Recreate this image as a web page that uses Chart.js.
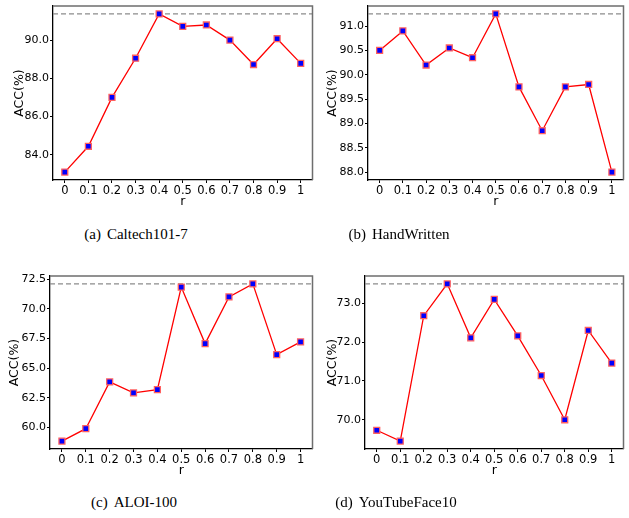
<!DOCTYPE html>
<html>
<head>
<meta charset="utf-8">
<script src="https://cdn.jsdelivr.net/npm/chart.js@4.4.1/dist/chart.umd.min.js"></script>
<style>
  body { margin: 0; background: #fff; width: 629px; height: 518px; position: relative; overflow: hidden; }
  .box { position: absolute; }
  .cap { position: absolute; font-family: "Liberation Serif", "DejaVu Serif", serif; font-size: 15px; color: #000; white-space: nowrap; transform: translateX(-50%); }
  .cap span { margin-right: 6px; }
</style>
</head>
<body>

<div class="box" style="left:0px;top:0px;width:318px;height:212px"><canvas id="g1"></canvas></div>
<div class="box" style="left:315px;top:0px;width:314px;height:212px"><canvas id="g2"></canvas></div>
<div class="box" style="left:0px;top:265px;width:318px;height:216px"><canvas id="g3"></canvas></div>
<div class="box" style="left:312px;top:265px;width:317px;height:216px"><canvas id="g4"></canvas></div>

<div class="cap" style="left:136px;top:226px"><span>(a)</span>Caltech101-7</div>
<div class="cap" style="left:399px;top:226px"><span>(b)</span>HandWritten</div>
<div class="cap" style="left:134px;top:494px"><span>(c)</span>ALOI-100</div>
<div class="cap" style="left:396px;top:494px"><span>(d)</span>YouTubeFace10</div>

<script>
// values of r on the x axis
const rLabels = ['0', '0.1', '0.2', '0.3', '0.4', '0.5', '0.6', '0.7', '0.8', '0.9', '1'];

// ACC(%) per dataset
const caltech101 = [83.09, 84.44, 87.0, 89.05, 91.37, 90.72, 90.79, 90.0, 88.72, 90.07, 88.78];
const handWritten = [90.5, 90.9, 90.2, 90.55, 90.35, 91.25, 89.75, 88.85, 89.75, 89.8, 88.0];
const aloi100 = [58.85, 59.9, 63.85, 62.92, 63.2, 71.85, 67.08, 71.02, 72.12, 66.15, 67.22];
const youtubeFace = [69.73, 69.45, 72.68, 73.5, 72.11, 73.1, 72.16, 71.14, 70.0, 72.3, 71.46];

// y tick labels
const ticksA = [84, 86, 88, 90];
const ticksB = [88, 88.5, 89, 89.5, 90, 90.5, 91];
const ticksC = [60, 62.5, 65, 67.5, 70, 72.5];
const ticksD = [70, 71, 72, 73];

Chart.defaults.color = '#000';
Chart.defaults.font.family = '"DejaVu Sans", sans-serif';

// dashed best line + grey top/right frame
const framePlugin = {
  id: 'frame',
  beforeDatasetsDraw(chart) {
    const ctx = chart.ctx, a = chart.chartArea;
    const best = Math.max.apply(null, chart.data.datasets[0].data);
    const y = chart.scales.y.getPixelForValue(best);
    ctx.save();
    ctx.strokeStyle = '#8c8c8c';
    ctx.lineWidth = 1.2;
    ctx.setLineDash([5, 3]);
    ctx.beginPath();
    ctx.moveTo(a.left, y);
    ctx.lineTo(a.right, y);
    ctx.stroke();
    ctx.restore();
  },
  afterDraw(chart) {
    const ctx = chart.ctx, a = chart.chartArea;
    ctx.save();
    ctx.strokeStyle = '#6e6e6e';
    ctx.lineWidth = 1.5;
    ctx.beginPath();
    ctx.moveTo(a.left, a.top);
    ctx.lineTo(a.right, a.top);
    ctx.lineTo(a.right, a.bottom);
    ctx.stroke();
    ctx.restore();
  }
};

function grafica(id, values, yticks, yWidth, titlePad, pad) {
  var lo = Math.min.apply(null, values), hi = Math.max.apply(null, values);
  var m = (hi - lo) * 0.05;

  new Chart(document.getElementById(id), {
    type: 'line',
    data: {
      labels: rLabels,
      datasets: [{
        data: values,
        borderColor: '#ff0000',
        borderWidth: 1.3,
        pointStyle: 'rect',
        pointRadius: 4.2,
        pointBackgroundColor: '#0000ff',
        pointBorderColor: '#ff6060',
        pointBorderWidth: 1.3,
        tension: 0
      }]
    },
    options: {
      responsive: true,
      maintainAspectRatio: false,
      animation: false,
      layout: { padding: pad },
      plugins: { legend: { display: false }, tooltip: { enabled: false } },
      scales: {
        x: {
          offset: true,
          grid: { display: true, drawOnChartArea: false, drawTicks: true, tickLength: 3, color: '#000' },
          border: { color: '#000', width: 1.3 },
          ticks: { font: { size: 11.5 }, padding: 1, maxRotation: 0, autoSkip: false },
          title: { display: true, text: 'r', font: { size: 12.5 }, padding: { top: 0, bottom: 3 } },
          afterFit: function(s) { s.height = 32; s.paddingLeft = 0; s.paddingRight = 0; }
        },
        y: {
          min: lo - m,
          max: hi + m,
          grid: { display: true, drawOnChartArea: false, drawTicks: true, tickLength: 3, color: '#000' },
          border: { color: '#000', width: 1.3 },
          afterBuildTicks: function(s) { s.ticks = yticks.map(v => ({ value: v })); },
          ticks: { font: { size: 11 }, padding: 1, callback: v => Number(v).toFixed(1) },
          title: { display: true, text: 'ACC(%)', font: { size: 12.5 }, padding: { top: titlePad, bottom: 0 } },
          afterFit: function(s) { s.width = yWidth; s.paddingTop = 0; s.paddingBottom = 0; }
        }
      }
    },
    plugins: [framePlugin]
  });
}

grafica('g1', caltech101, ticksA, 53, 12.5, { top: 6, right: 2, left: 0, bottom: 0 });
grafica('g2', handWritten, ticksB, 53, 10.5, { top: 6, right: 1, left: 0, bottom: 0 });
grafica('g3', aloi100, ticksC, 50, 7.5, { top: 11, right: 3, left: 0, bottom: 0 });
grafica('g4', youtubeFace, ticksD, 53, 13, { top: 11, right: 1, left: 0, bottom: 0 });
</script>
</body>
</html>
